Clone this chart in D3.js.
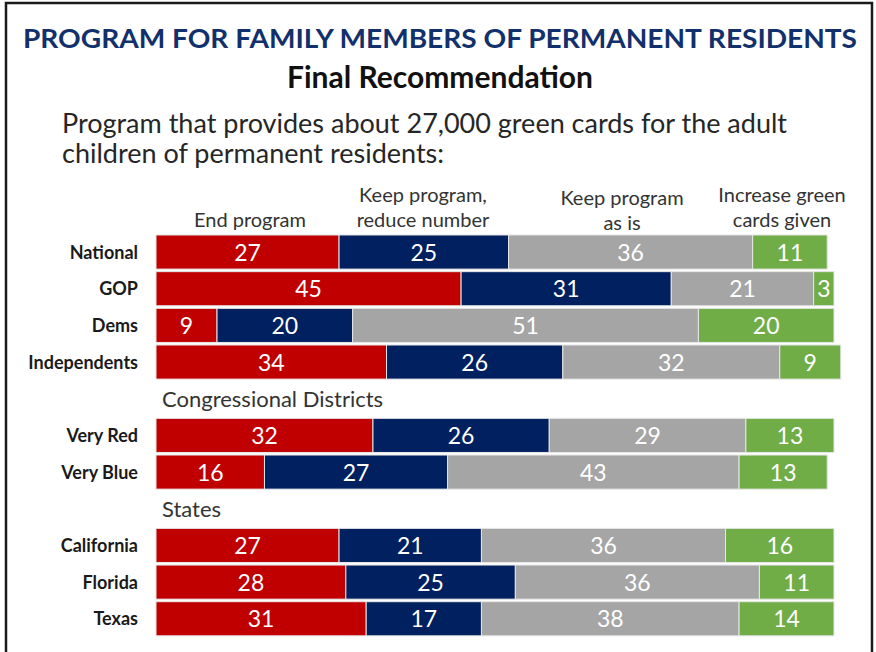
<!DOCTYPE html>
<html>
<head>
<meta charset="utf-8">
<script src="https://cdn.jsdelivr.net/npm/d3@7"></script>
<style>
  html, body { margin: 0; padding: 0; background: #fff; }
  svg { display: block; font-family: Lato, "Open Sans", sans-serif; }
</style>
</head>
<body>
<svg id="chart" width="876" height="652"></svg>
<script>
// ---- data ----
const rowLabels = ["National", "GOP", "Dems", "Independents", "Very Red", "Very Blue", "California", "Florida", "Texas"];
const endProgram = [27, 45, 9, 34, 32, 16, 27, 28, 31];
const reduceNumber = [25, 31, 20, 26, 26, 27, 21, 25, 17];
const keepAsIs = [36, 21, 51, 32, 29, 43, 36, 36, 38];
const increaseCards = [11, 3, 20, 9, 13, 13, 16, 11, 14];
const seriesNames = [["End program"], ["Keep program,", "reduce number"], ["Keep program", "as is"], ["Increase green", "cards given"]];
const sectionLabels = ["Congressional Districts", "States"];
const sectionBefore = ["Very Red", "California"];
const titleText = "PROGRAM FOR FAMILY MEMBERS OF PERMANENT RESIDENTS";
const subTitleText = "Final Recommendation";
const questionLines = ["Program that provides about 27,000 green cards for the adult", "children of permanent residents:"];

// ---- layout ----
const colors = ["#C00000", "#002060", "#A5A5A5", "#70AD47"];
const svg = d3.select("#chart");

// frame
svg.append("path")
  .attr("d", "M6,660 V3 H872 V660")
  .attr("fill", "none").attr("stroke", "#1a1a1a").attr("stroke-width", 2.5);

svg.append("text").attr("x", 440).attr("y", 48).attr("text-anchor", "middle")
  .attr("font-weight", 700).attr("font-size", 26).attr("fill", "#12306B")
  .attr("textLength", 834).attr("lengthAdjust", "spacingAndGlyphs")
  .text(titleText);
svg.append("text").attr("x", 440).attr("y", 88).attr("text-anchor", "middle")
  .attr("font-weight", 700).attr("font-size", 30).attr("fill", "#111")
  .text(subTitleText);
svg.append("g").selectAll("text").data(questionLines).join("text")
  .attr("x", 62).attr("y", (d, i) => 133 + i * 30)
  .attr("font-size", 27).attr("fill", "#262626")
  .text(d => d);

// slots: rows + section header slots
const slots = [];
rowLabels.forEach(r => {
  const si = sectionBefore.indexOf(r);
  if (si >= 0) slots.push("__" + si);
  slots.push(r);
});

const x = d3.scaleLinear().domain([0, 100]).range([156, 834]);
const y = d3.scaleBand().domain(slots).range([233.7, 637.1]).paddingInner(0.07).paddingOuter(0.035);

const table = rowLabels.map((r, i) => ({ label: r, values: [endProgram[i], reduceNumber[i], keepAsIs[i], increaseCards[i]] }));
const stack = d3.stack().keys([0, 1, 2, 3]).value((d, k) => d.values[k]);
const layers = stack(table);

const g = svg.append("g");
layers.forEach((layer, k) => {
  const lg = g.append("g");
  lg.selectAll("rect").data(layer).join("rect")
    .attr("x", d => x(d[0]))
    .attr("y", d => y(d.data.label))
    .attr("width", d => x(d[1]) - x(d[0]))
    .attr("height", y.bandwidth())
    .attr("fill", colors[k])
    .attr("stroke", "#e6e6e6").attr("stroke-width", 1);
  lg.selectAll("text").data(layer).join("text")
    .attr("x", d => (x(d[0]) + x(d[1])) / 2)
    .attr("y", d => y(d.data.label) + y.bandwidth() / 2 + 8.5)
    .attr("text-anchor", "middle")
    .attr("font-size", 23).attr("fill", "#fff")
    .text(d => d[1] - d[0]);
});

// row labels
g.append("g").selectAll("text").data(rowLabels).join("text")
  .attr("x", 138).attr("y", d => y(d) + y.bandwidth() / 2 + 6.5)
  .attr("text-anchor", "end").attr("font-weight", 700).attr("font-size", 18).attr("fill", "#1a1a1a")
  .text(d => d);

// section labels
g.append("g").selectAll("text").data(sectionLabels).join("text")
  .attr("x", 162).attr("y", (d, i) => y("__" + i) + y.bandwidth() / 2 + 8)
  .attr("font-size", 22).attr("fill", "#333")
  .text(d => d);

// series header labels
const headerX = [250, 423, 622, 782];
const headerBase = [227, 227, 230, 227];
const hg = svg.append("g");
seriesNames.forEach((lines, k) => {
  lines.forEach((t, j) => {
    hg.append("text")
      .attr("x", headerX[k])
      .attr("y", headerBase[k] - (lines.length - 1 - j) * 25)
      .attr("text-anchor", "middle").attr("font-size", 20).attr("fill", "#333")
      .text(t);
  });
});
</script>
</body>
</html>
